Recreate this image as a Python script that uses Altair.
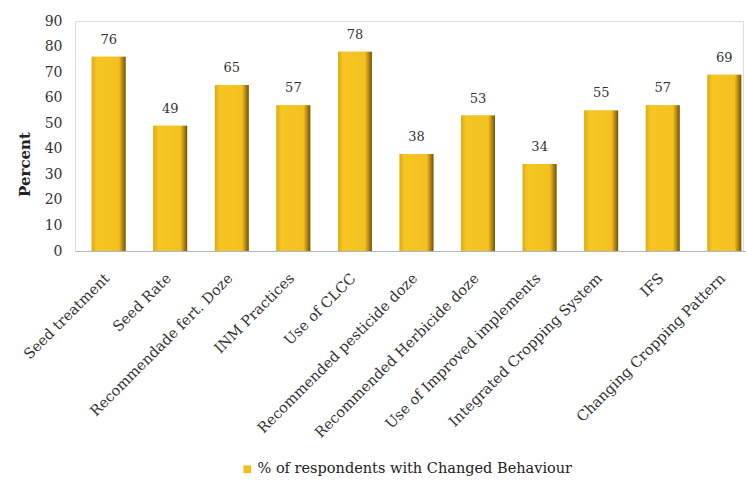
import altair as alt
import pandas as pd

# Practices surveyed and share of respondents who changed behaviour (%)
practices = [
    "Seed treatment",
    "Seed Rate",
    "Recommendade fert. Doze",
    "INM Practices",
    "Use of CLCC",
    "Recommended pesticide doze",
    "Recommended Herbicide doze",
    "Use of Improved implements",
    "Integrated Cropping System",
    "IFS",
    "Changing Cropping Pattern",
]
percent = [76, 49, 65, 57, 78, 38, 53, 34, 55, 57, 69]
series_name = "% of respondents with Changed Behaviour"

df = pd.DataFrame({"practice": practices, "percent": percent, "series": series_name})

FONT = "DejaVu Serif"
GOLD = "#F2C01E"
TEXT = "#333333"

x_enc = alt.X(
    "practice:N",
    sort=practices,
    # the category band runs a little past the right edge of the view
    scale=alt.Scale(range=[0, 683], paddingInner=0.45, paddingOuter=0.272),
    axis=alt.Axis(
        title=None,
        labelAngle=-45,
        labelFont=FONT,
        labelFontSize=14.5,
        labelColor=TEXT,
        labelPadding=20,
        labelOffset=-6,
        ticks=False,
        domainColor="#A9B8CC",
        labelLimit=400,
    ),
)
y_enc = alt.Y(
    "percent:Q",
    scale=alt.Scale(domain=[0, 90], nice=False),
    axis=alt.Axis(
        title="Percent",
        titleFont=FONT,
        titleFontSize=15,
        titleFontWeight="bold",
        titleColor="#222222",
        titleAngle=-90,
        titleAlign="center",
        titleBaseline="middle",
        titleX=-51,
        titleY=143,
        values=list(range(0, 91, 10)),
        labelFont=FONT,
        labelFontSize=14,
        labelColor=TEXT,
        labelPadding=13,
        ticks=False,
        domain=False,
        grid=False,
    ),
)

base = alt.Chart(df)

# flat-coloured bars carry the legend
legend_bars = base.mark_bar().encode(
    x=x_enc,
    y=y_enc,
    color=alt.Color(
        "series:N",
        scale=alt.Scale(range=[GOLD]),
        legend=alt.Legend(
            title=None,
            orient="none",
            legendX=165,
            legendY=441,
            padding=0,
            symbolType="square",
            symbolSize=60,
            symbolStrokeWidth=0,
            symbolOffset=0,
            labelOffset=3,
            labelFont=FONT,
            labelFontSize=14.5,
            labelColor="#222222",
            labelLimit=500,
        ),
    ),
)

# shaded bars drawn on top for the bevelled look
shaded_bars = base.mark_bar(
    fill=alt.Gradient(
        gradient="linear",
        x1=0, x2=1, y1=0, y2=0,
        stops=[
            alt.GradientStop(color="#E0AA12", offset=0),
            alt.GradientStop(color="#F6C625", offset=0.15),
            alt.GradientStop(color="#F3C01F", offset=0.8),
            alt.GradientStop(color="#B88A12", offset=0.9),
            alt.GradientStop(color="#6E5210", offset=1),
        ],
    ),
).encode(x=x_enc, y=y_enc)

labels = base.mark_text(
    dy=-10, baseline="bottom", font=FONT, fontSize=13, color=TEXT
).encode(x=x_enc, y=y_enc, text="percent:Q")

chart = (
    alt.layer(legend_bars, shaded_bars, labels)
    .properties(
        width=668,
        height=230,
        autosize=alt.AutoSizeParams(type="none"),
        padding={"left": 75, "top": 21, "right": 3, "bottom": 232},
    )
    .configure_view(stroke=None)
    .configure_legend(labelFont=FONT)
    .configure(background="white")
)

chart.save("out.html", embed_options={"renderer": "svg", "actions": False})
